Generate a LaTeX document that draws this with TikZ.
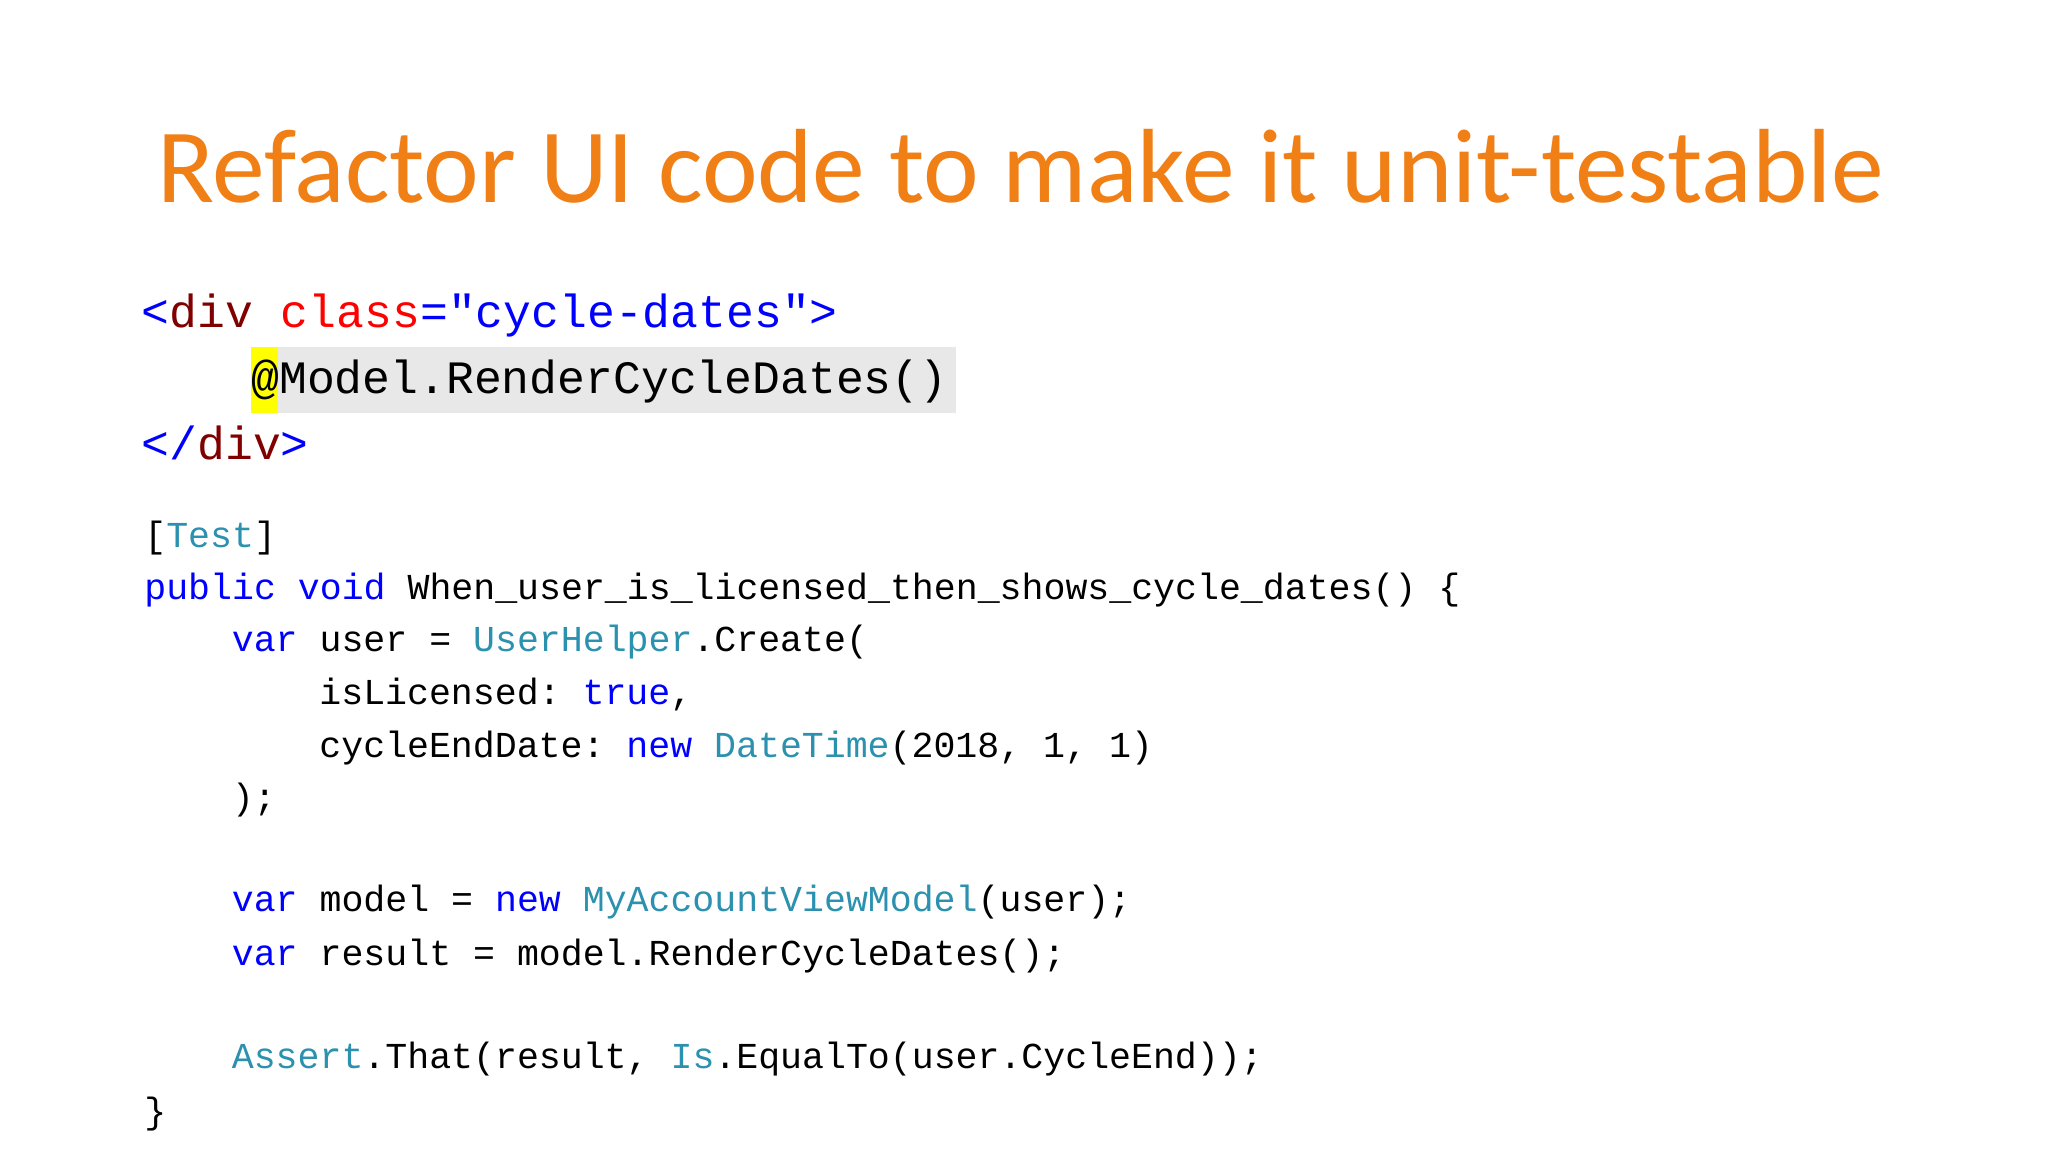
\documentclass[tikz,border=0pt]{standalone}
\usepackage{fontspec}
\setmainfont{Carlito}
\setmonofont{Liberation Mono}
\definecolor{orng}{HTML}{F07F16}
\definecolor{kw}{HTML}{0000FF}
\definecolor{ty}{HTML}{2B91AF}
\definecolor{tag}{HTML}{800000}
\definecolor{attr}{HTML}{FF0000}
\definecolor{hlg}{HTML}{E8E8E8}
\definecolor{hly}{HTML}{FFFF00}
\newcommand{\K}[1]{\textcolor{kw}{#1}}
\newcommand{\T}[1]{\textcolor{ty}{#1}}
\begin{document}
\begin{tikzpicture}[x=0.013061cm,y=-0.013061cm,
  code/.style={anchor=base west,inner sep=0,font=\ttfamily\fontsize{10.4}{12}\selectfont},
  html/.style={anchor=base west,inner sep=0,font=\ttfamily\fontsize{13.2}{15}\selectfont}]
\useasboundingbox (0,0) rectangle (1568,882);
\node[anchor=base west,inner sep=0,text=orng,font=\fontsize{30}{36}\selectfont] (title) at (120,155) {Refactor UI code to make it unit-testable};
\fill[hlg] (213,266) rectangle (732,316);
\fill[hly] (192,266) rectangle (213,316);
\node[html] (h1) at (108,251) {\K{<}\textcolor{tag}{div} \textcolor{attr}{class}\K{="cycle-dates">}};
\node[html] (h2) at (192,301) {@Model.RenderCycleDates()};
\node[html] (h3) at (108,352) {\K{</}\textcolor{tag}{div}\K{>}};
\node[code] (c1) at (110,419) {[\T{Test}]};
\node[code] (c2) at (110,459) {\K{public} \K{void} When\_user\_is\_licensed\_then\_shows\_cycle\_dates() \{};
\node[code] (c3) at (177,499) {\K{var} user = \T{UserHelper}.Create(};
\node[code] (c4) at (244,539) {isLicensed: \K{true},};
\node[code] (c5) at (244,580) {cycleEndDate: \K{new} \T{DateTime}(2018, 1, 1)};
\node[code] (c6) at (177,620) {);};
\node[code] (c7) at (177,698) {\K{var} model = \K{new} \T{MyAccountViewModel}(user);};
\node[code] (c8) at (177,739) {\K{var} result = model.RenderCycleDates();};
\node[code] (c9) at (177,818) {\T{Assert}.That(result, \T{Is}.EqualTo(user.CycleEnd));};
\node[code] (c10) at (110,860) {\}};
\end{tikzpicture}
\end{document}
